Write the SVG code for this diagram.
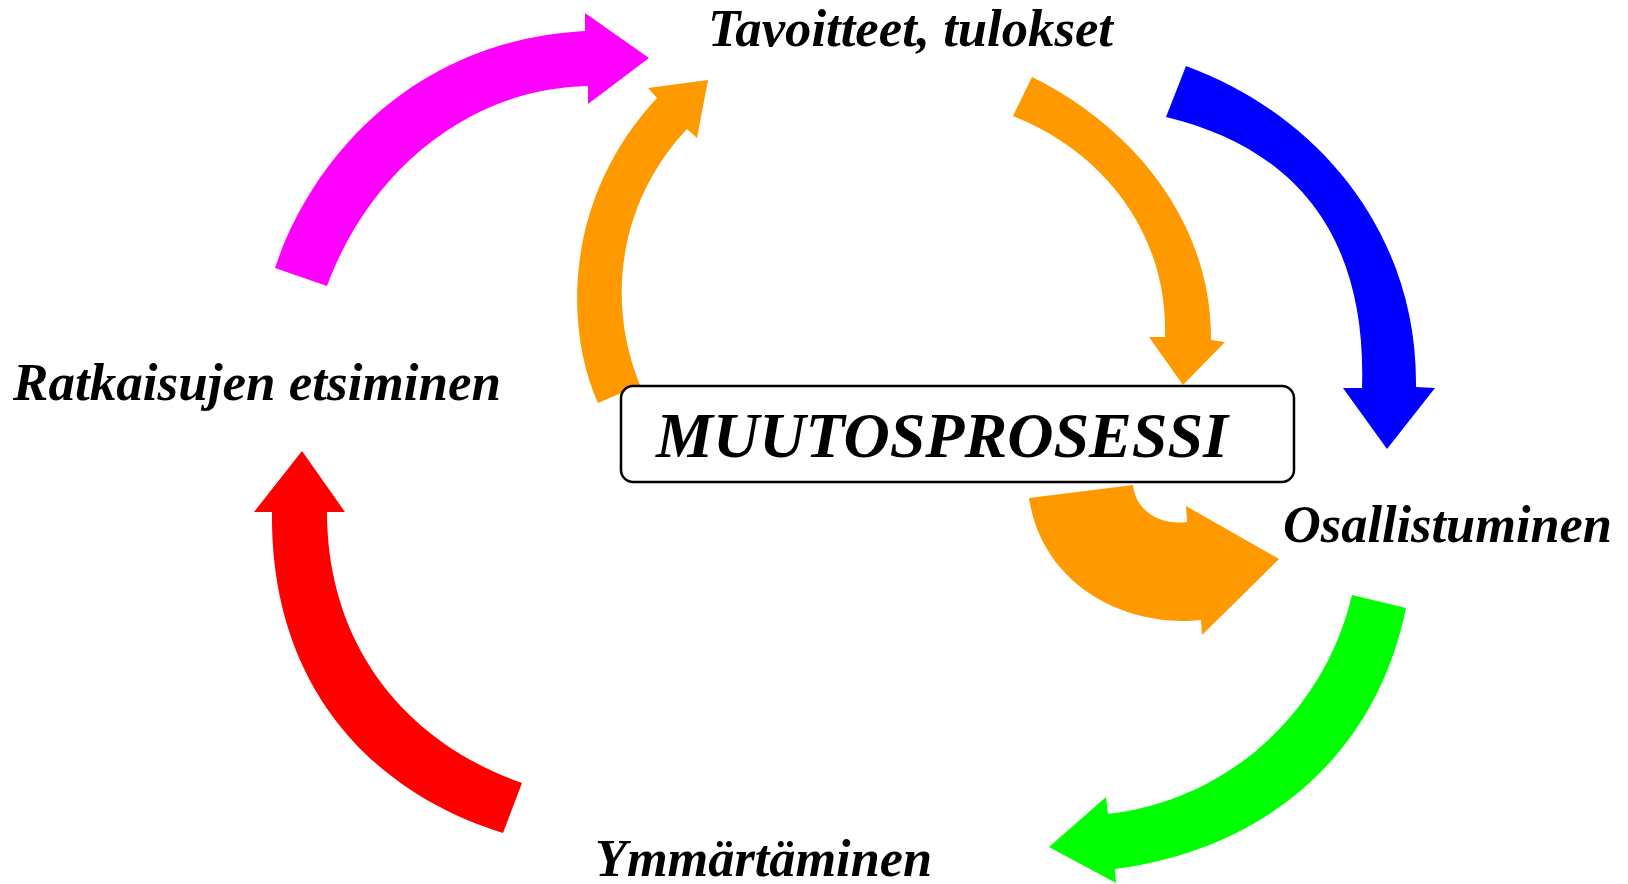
<svg xmlns="http://www.w3.org/2000/svg" width="1628" height="884" viewBox="0 0 1628 884">
<style>
.lbl{font-family:"Liberation Serif","Times New Roman",serif;font-weight:bold;font-style:italic;font-size:52px;fill:#000}
.title{font-family:"Liberation Serif","Times New Roman",serif;font-weight:bold;font-style:italic;font-size:64px;fill:#000}
.box{fill:#fff;stroke:#000;stroke-width:2.5}
</style>
<rect width="1628" height="884" fill="#fff"/>
<g id="connectors">
<path id="arrow-magenta" fill="#FF00FF" d="M275,268 C315,150 420,40 585,31 L585,13 L649,58 L588,104 L588,86 C470,88 370,170 327,286 Z"/>
<path id="arrow-orange-left" fill="#FF9900" d="M598,403 C565,330 562,200 657,98 L648,88 L708,80 L697,138 L687,129 C620,200 605,300 640,385 Z"/>
<path id="arrow-orange-right" fill="#FF9900" d="M1032,77 C1130,125 1212,220 1211,340 L1225,342 L1183,385 L1149,337 L1165,337 C1168,230 1100,150 1013,116 Z"/>
<path id="arrow-blue" fill="#0000FF" d="M1186,66 C1320,115 1418,235 1416,387 L1435,388 L1387,449 L1343,388 L1362,388 C1367,235 1295,148 1166,117 Z"/>
<path id="arrow-orange-bottom" fill="#FF9900" d="M1029,498 L1133,485 C1135,510 1160,526 1187,522 L1186,506 L1279,559 L1202,635 L1201,620 C1125,628 1042,585 1029,498 Z"/>
<path id="arrow-green" fill="#00FF00" d="M1352,595 L1406,608 C1375,760 1260,850 1115,869 L1116,883 L1049,847 L1106,797 L1108,814 C1230,800 1325,710 1352,595 Z"/>
<path id="arrow-red" fill="#FF0000" d="M302,451 L345,512 L327,512 C327,640 400,740 522,783 L503,833 C365,790 270,680 272,512 L254,512 Z"/>
</g>
<g id="node-center">
<rect class="box" x="621" y="386" width="673" height="96" rx="12" ry="12"/>
<text class="title" x="656" y="457" textLength="572" lengthAdjust="spacingAndGlyphs">MUUTOSPROSESSI</text>
</g>
<g id="node-tavoitteet"><text class="lbl" x="708" y="46" textLength="405" lengthAdjust="spacingAndGlyphs">Tavoitteet, tulokset</text></g>
<g id="node-osallistuminen"><text class="lbl" x="1283" y="542" textLength="329" lengthAdjust="spacingAndGlyphs">Osallistuminen</text></g>
<g id="node-ymmartaminen"><text class="lbl" x="595" y="876" textLength="337" lengthAdjust="spacingAndGlyphs">Ymmärtäminen</text></g>
<g id="node-ratkaisujen"><text class="lbl" x="13" y="400" style="font-size:53px" textLength="488" lengthAdjust="spacingAndGlyphs">Ratkaisujen etsiminen</text></g>
</svg>
